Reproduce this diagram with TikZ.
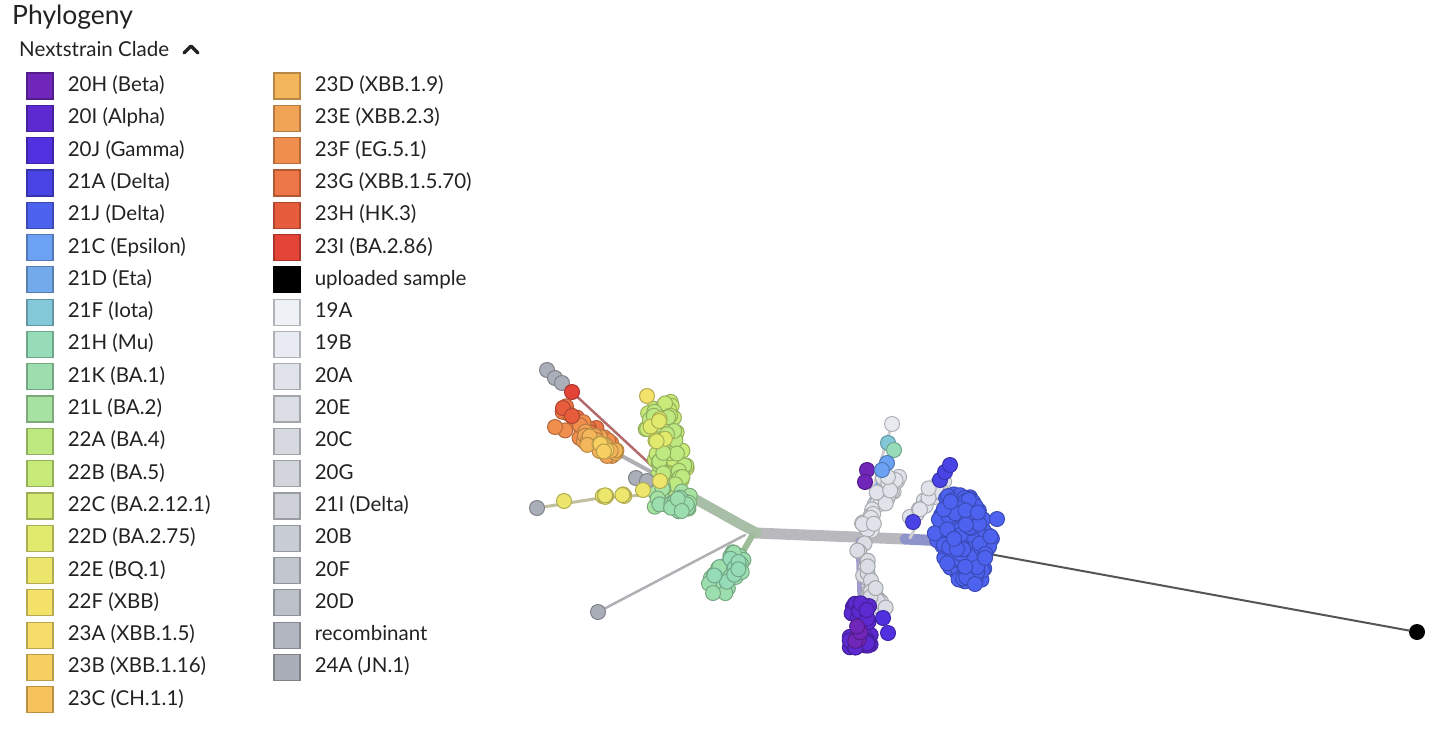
\documentclass[tikz,border=0pt]{standalone}
\usepackage{fontspec}
\setmainfont{Lato}
\usetikzlibrary{positioning}

\definecolor{ink}{HTML}{222222}
\definecolor{c20H}{HTML}{7026B8}
\definecolor{c20I}{HTML}{5C2AD0}
\definecolor{c20J}{HTML}{5030DF}
\definecolor{c21A}{HTML}{4A44E6}
\definecolor{c21J}{HTML}{4E62F0}
\definecolor{c21C}{HTML}{6CA2F4}
\definecolor{c21D}{HTML}{72AAEC}
\definecolor{c21F}{HTML}{82C8D8}
\definecolor{c21H}{HTML}{96DCB8}
\definecolor{c21K}{HTML}{9CDEAE}
\definecolor{c21L}{HTML}{A6E2A2}
\definecolor{c22A}{HTML}{BEE880}
\definecolor{c22B}{HTML}{C8EA78}
\definecolor{c22C}{HTML}{D4EA72}
\definecolor{c22D}{HTML}{E2EA6E}
\definecolor{c22E}{HTML}{ECE66C}
\definecolor{c22F}{HTML}{F4E26A}
\definecolor{c23A}{HTML}{F8DC6A}
\definecolor{c23B}{HTML}{F8D062}
\definecolor{c23C}{HTML}{F6C25C}
\definecolor{c23D}{HTML}{F4B65A}
\definecolor{c23E}{HTML}{F2A456}
\definecolor{c23F}{HTML}{F08E4E}
\definecolor{c23G}{HTML}{EC7646}
\definecolor{c23H}{HTML}{E85C3E}
\definecolor{c23I}{HTML}{E44438}
\definecolor{cUpl}{HTML}{000000}
\definecolor{c19A}{HTML}{EEF1F6}
\definecolor{c19B}{HTML}{E8ECF2}
\definecolor{c20A}{HTML}{E0E4EA}
\definecolor{c20E}{HTML}{DADEE4}
\definecolor{c20C}{HTML}{D6DAE0}
\definecolor{c20G}{HTML}{D2D6DC}
\definecolor{c21I}{HTML}{CED2D8}
\definecolor{c20B}{HTML}{C8CCD4}
\definecolor{c20F}{HTML}{C2C6CE}
\definecolor{c20D}{HTML}{BCC0C8}
\definecolor{cRec}{HTML}{B2B6C0}
\definecolor{c24A}{HTML}{AAAEB8}
\definecolor{trunkgray}{HTML}{B9B9BD}
\definecolor{trunkblue}{HTML}{8E93C9}
\definecolor{stemgreen}{HTML}{A9BEA6}
\definecolor{stemba}{HTML}{9CBC9A}
\definecolor{twiggray}{HTML}{AFAFB4}
\definecolor{redtwig}{HTML}{B36B6B}
\definecolor{lavstem}{HTML}{A09CCC}
\definecolor{darkline}{HTML}{555555}

\tikzset{
  swatch/.style={draw=#1!75!black, fill=#1, line width=1.2pt, minimum size=26pt, inner sep=0pt},
  legtext/.style={text=ink, font=\fontsize{20.5}{24}\selectfont, text height=15pt, text depth=4pt, inner sep=0pt},
  tip/.style={fill=#1, draw=#1!75!black, line width=1pt},
  branch/.style={line cap=round, line join=round}
}

% dots scattered along a segment: colour, x1, y1, x2, y2, count, spread
\newcommand{\tipband}[7]{%
  \foreach \k in {1,...,#6}{%
    \pgfmathsetmacro{\bandt}{rnd}%
    \pgfmathsetmacro{\bandj}{#7*rand}%
    \pgfmathsetmacro{\bandl}{veclen(#4-#2,#5-#3)}%
    \pgfmathsetmacro{\bandx}{#2+\bandt*(#4-#2)-\bandj*(#5-#3)/\bandl}%
    \pgfmathsetmacro{\bandy}{#3+\bandt*(#5-#3)+\bandj*(#4-#2)/\bandl}%
    \path[tip=#1] (\bandx,\bandy) circle[radius=7.5pt];%
  }%
}
\newcommand{\tipdot}[3]{\path[tip=#1] (#2,#3) circle[radius=7.5pt];}

\begin{document}
\begin{tikzpicture}[x=1pt,y=-1pt]
\useasboundingbox (0,0) rectangle (1456,734);
\pgfmathsetseed{4711}

% legend
\node[anchor=base west, text=ink, font=\fontsize{26.5}{30}\selectfont, inner sep=0pt] (title) at (12,24) {Phylogeny};
\node[anchor=base west, text=ink, font=\fontsize{20.5}{24}\selectfont, inner sep=0pt] (key) at (19,56) {Nextstrain Clade};
\draw[ink, line width=3.5pt, line cap=round, line join=round] (184,53) -- (191,46) -- (198,53);

\foreach \col/\name [count=\i from 0] in {c20H/20H (Beta), c20I/20I (Alpha), c20J/20J (Gamma), c21A/21A (Delta), c21J/21J (Delta), c21C/21C (Epsilon), c21D/21D (Eta), c21F/21F (Iota), c21H/21H (Mu), c21K/21K (BA.1), c21L/21L (BA.2), c22A/22A (BA.4), c22B/22B (BA.5), c22C/22C (BA.2.12.1), c22D/22D (BA.2.75), c22E/22E (BQ.1), c22F/22F (XBB), c23A/23A (XBB.1.5), c23B/23B (XBB.1.16), c23C/23C (CH.1.1)}{
  \node[swatch=\col] (swa-\i) at (40,86+32.3*\i) {};
  \node[legtext, right=14pt of swa-\i] (laba-\i) {\name};
}
\foreach \col/\name [count=\i from 0] in {c23D/23D (XBB.1.9), c23E/23E (XBB.2.3), c23F/23F (EG.5.1), c23G/23G (XBB.1.5.70), c23H/23H (HK.3), c23I/23I (BA.2.86), cUpl/uploaded sample, c19A/19A, c19B/19B, c20A/20A, c20E/20E, c20C/20C, c20G/20G, c21I/21I (Delta), c20B/20B, c20F/20F, c20D/20D, cRec/recombinant, c24A/24A (JN.1)}{
  \node[swatch=\col] (swb-\i) at (287,86+32.3*\i) {};
  \node[legtext, right=14pt of swb-\i] (labb-\i) {\name};
}

% branches
\draw[branch, trunkgray, line width=11pt] (755,533) -- (905,539);
\draw[branch, trunkblue, line width=11pt] (905,539) -- (945,541);
\draw[branch, stemgreen, line width=10pt] (757,533) -- (740,524) -- (688,495);
\draw[branch, stemba, line width=6pt] (752,536) -- (738,560);
\draw[branch, twiggray, line width=2.5pt] (745,535) -- (598,612);
\draw[branch, twiggray, line width=4pt] (690,493) -- (620,455) -- (565,415);
\draw[branch, redtwig, line width=2.5pt] (665,478) -- (572,392);
\draw[branch, twiggray, line width=2pt] (572,392) -- (548,370);
\draw[branch, twiggray!70!c22E, line width=3pt] (675,493) -- (600,498) -- (537,508);
\draw[branch, c22D!80!gray, line width=2pt] (680,490) -- (648,397);
\draw[branch, c22B!80!gray, line width=2pt] (682,490) -- (670,410);
\draw[branch, twiggray!60, line width=3pt] (862,538) -- (878,470) -- (892,424);
\draw[branch, c21C, line width=2.5pt] (885,465) -- (870,500);
\draw[branch, lavstem, line width=5pt] (858,540) -- (860,600);
\draw[branch, twiggray!60, line width=3pt] (860,540) -- (880,612);
\draw[branch, twiggray!60, line width=3pt] (910,538) -- (945,470);

% uploaded sample
\coordinate (bluehub) at (962,549);
\node[circle, fill=black, minimum size=16pt, inner sep=0pt] (sample) at (1417,632) {};
\draw[branch, darkline, line width=2pt] (bluehub) -- (sample);

% left tips
\tipdot{c24A}{547}{370}
\tipdot{c24A}{555}{378}
\tipdot{c24A}{562}{383}
\tipdot{c23I}{572}{392}
\tipband{c23G}{562}{412}{600}{438}{12}{7}
\tipband{c23F}{565}{420}{610}{448}{14}{9}
\tipdot{c23F}{555}{427}
\tipband{c23E}{570}{428}{615}{452}{12}{8}
\tipband{c23D}{585}{440}{622}{456}{9}{6}
\tipband{c23B}{592}{446}{620}{455}{5}{5}
\tipdot{c23H}{563}{408}
\tipdot{c23H}{572}{416}
\tipband{c22B}{656}{405}{674}{482}{45}{16}
\tipband{c22A}{656}{410}{676}{487}{30}{15}
\tipband{c22D}{652}{405}{665}{450}{6}{9}
\tipdot{c22F}{647}{396}
\tipband{c21L}{652}{496}{692}{500}{16}{11}
\tipband{c21K}{660}{500}{690}{506}{12}{9}
\tipdot{c24A}{636}{478}
\tipdot{c24A}{647}{481}
\tipdot{c22E}{660}{481}
\tipdot{c22E}{643}{490}
\tipdot{c24A}{537}{508}
\tipdot{c22E}{564}{501}
\tipband{c22E}{598}{498}{627}{495}{7}{2}
\tipband{c21K}{742}{556}{715}{589}{40}{11}
\tipband{c21H}{738}{560}{718}{585}{7}{9}
\tipdot{c21K}{713}{593}
\tipdot{c24A}{598}{612}

% right tips
\tipband{c20A}{893}{472}{866}{532}{34}{9}
\tipdot{c19B}{892}{424}
\tipdot{c21F}{888}{443}
\tipdot{c21H}{894}{450}
\tipdot{c20H}{867}{470}
\tipdot{c20H}{865}{482}
\tipdot{c21C}{887}{463}
\tipdot{c21C}{882}{470}
\tipband{c20E}{858}{543}{880}{612}{24}{7}
\tipband{c20I}{860}{603}{860}{648}{50}{11}
\tipband{c20H}{857}{625}{858}{645}{5}{6}
\tipdot{c20J}{883}{618}
\tipdot{c20J}{888}{633}
\tipband{c20A}{913}{520}{942}{480}{15}{6}
\tipdot{c21A}{913}{522}
\tipdot{c21A}{940}{480}
\tipdot{c21A}{945}{472}
\tipdot{c21A}{950}{465}
\foreach \k in {1,...,190}{
  \pgfmathsetmacro{\bandv}{rand}
  \pgfmathsetmacro{\bandu}{rand}
  \pgfmathsetmacro{\bandx}{964+5*\bandv+(31-19*abs(\bandv))*\bandu}
  \pgfmathsetmacro{\bandy}{538+44*\bandv}
  \path[tip=c21J] (\bandx,\bandy) circle[radius=7.5pt];
}
\tipdot{c21J}{997}{519}
\tipdot{c21J}{975}{584}
\end{tikzpicture}
\end{document}
